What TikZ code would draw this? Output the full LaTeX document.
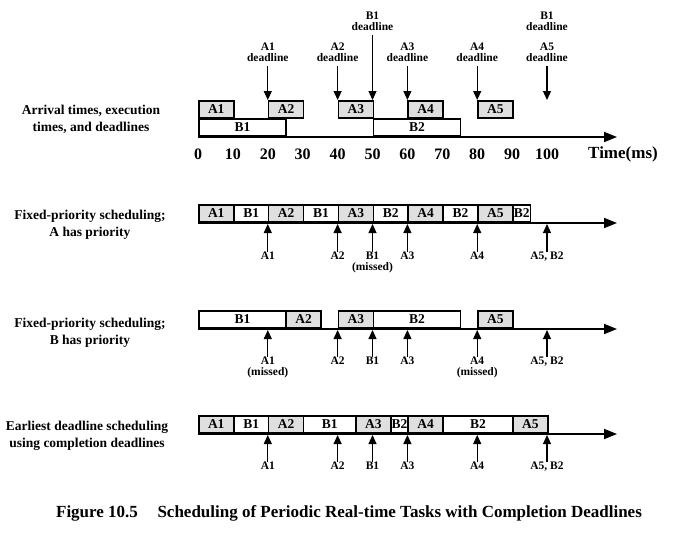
\documentclass[tikz,border=0pt]{standalone}
\usepackage{fontspec}
\setmainfont{Liberation Serif}
\usetikzlibrary{arrows.meta}
\newcommand\job[6]{\node[#2, minimum width={(#4-#3)*3.49pt}] (#1) at ({198+3.49*#3},#5) {#6};}
\newcommand\uparr[5]{%
  \node[small, anchor=north] (#1) at ({198+3.49*#2},#4) {#5};
  \coordinate (#1t) at ({198+3.49*#2},#3+1);
  \draw[dl] (#1) -- (#1t);}
\newcommand\dnarr[4]{%
  \node[small] (#1) at ({198+3.49*#2},#3) {#4};
  \coordinate (#1t) at ({198+3.49*#2},100);
  \draw[dl, shorten <=4pt] (#1) -- (#1t);}
\begin{document}
\begin{tikzpicture}[x=1pt,y=-1pt,
  abox/.style={draw, line width=1.6pt, fill=gray!25, inner sep=0pt, minimum height=17.5pt, anchor=south west, font=\fontsize{13.5}{13.5}\selectfont\bfseries},
  bbox/.style={abox, fill=white},
  axis/.style={line width=1.8pt, -{Triangle[length=13pt,width=10pt]}},
  dl/.style={line width=1.1pt, -{Triangle[length=9pt,width=8pt]}},
  small/.style={font=\fontsize{11.5}{11}\selectfont\bfseries, align=center, inner sep=0pt},
  rowlab/.style={font=\fontsize{13.5}{16.5}\selectfont\bfseries, align=center},
  tick/.style={font=\fontsize{16}{16}\selectfont\bfseries},
]
\useasboundingbox (0,0) rectangle (680,539);

% ---------- Row 1: arrival times ----------
\node[rowlab] (l1) at (91,119.5) {Arrival times, execution\\ times, and deadlines};
\coordinate (r1s) at (198,137);
\coordinate (r1e) at (617,137);
\draw[axis] (r1s) -- (r1e);
\job{tb1}{bbox}{0}{25}{137}{B1}
\job{tb2}{bbox}{50}{75}{137}{B2}
\job{ta1}{abox}{0}{10}{119}{A1}
\job{ta2}{abox}{20}{30}{119}{A2}
\job{ta3}{abox}{40}{50}{119}{A3}
\job{ta4}{abox}{60}{70}{119}{A4}
\job{ta5}{abox}{80}{90}{119}{A5}
\dnarr{d1}{20}{52.5}{A1\\deadline}
\dnarr{d2}{40}{52.5}{A2\\deadline}
\dnarr{d3}{50}{21}{B1\\deadline}
\dnarr{d4}{60}{52.5}{A3\\deadline}
\dnarr{d5}{80}{52.5}{A4\\deadline}
\dnarr{d6}{100}{52.5}{A5\\deadline}
\node[small] (d7) at ({198+3.49*100},21) {B1\\deadline};
\foreach \t in {0,10,...,100} {\node[tick] (k\t) at ({198+3.49*\t},154) {\t};}
\node[font=\fontsize{17}{17}\selectfont\bfseries] (time) at (623,154) {Time(ms)};

% ---------- Row 2: fixed priority, A ----------
\node[rowlab] (l2) at (90,225) {Fixed-priority scheduling;\\ A has priority};
\coordinate (r2s) at (198,223);
\coordinate (r2e) at (617,223);
\draw[axis] (r2s) -- (r2e);
\job{p1}{abox}{0}{10}{223}{A1}
\job{p2}{bbox}{10}{20}{223}{B1}
\job{p3}{abox}{20}{30}{223}{A2}
\job{p4}{bbox}{30}{40}{223}{B1}
\job{p5}{abox}{40}{50}{223}{A3}
\job{p6}{bbox}{50}{60}{223}{B2}
\job{p7}{abox}{60}{70}{223}{A4}
\job{p8}{bbox}{70}{80}{223}{B2}
\job{p9}{abox}{80}{90}{223}{A5}
\job{p10}{bbox}{90}{95}{223}{B2}
\uparr{u21}{20}{223}{252}{A1}
\uparr{u22}{40}{223}{252}{A2}
\uparr{u23}{50}{223}{252}{B1\\(missed)}
\uparr{u24}{60}{223}{252}{A3}
\uparr{u25}{80}{223}{252}{A4}
\uparr{u26}{100}{223}{252}{A5, B2}

% ---------- Row 3: fixed priority, B ----------
\node[rowlab] (l3) at (90,333) {Fixed-priority scheduling;\\ B has priority};
\coordinate (r3s) at (198,329);
\coordinate (r3e) at (617,329);
\draw[axis] (r3s) -- (r3e);
\job{q1}{bbox}{0}{25}{329}{B1}
\job{q2}{abox}{25}{35}{329}{A2}
\job{q3}{abox}{40}{50}{329}{A3}
\job{q4}{bbox}{50}{75}{329}{B2}
\job{q5}{abox}{80}{90}{329}{A5}
\uparr{u31}{20}{329}{357}{A1\\(missed)}
\uparr{u32}{40}{329}{357}{A2}
\uparr{u33}{50}{329}{357}{B1}
\uparr{u34}{60}{329}{357}{A3}
\uparr{u35}{80}{329}{357}{A4\\(missed)}
\uparr{u36}{100}{329}{357}{A5, B2}

% ---------- Row 4: earliest deadline ----------
\node[rowlab] (l4) at (87,436) {Earliest deadline scheduling\\ using completion deadlines};
\coordinate (r4s) at (198,434);
\coordinate (r4e) at (617,434);
\draw[axis] (r4s) -- (r4e);
\job{e1}{abox}{0}{10}{434}{A1}
\job{e2}{bbox}{10}{20}{434}{B1}
\job{e3}{abox}{20}{30}{434}{A2}
\job{e4}{bbox}{30}{45}{434}{B1}
\job{e5}{abox}{45}{55}{434}{A3}
\job{e6}{bbox}{55}{60}{434}{B2}
\job{e7}{abox}{60}{70}{434}{A4}
\job{e8}{bbox}{70}{90}{434}{B2}
\job{e9}{abox}{90}{100}{434}{A5}
\uparr{u41}{20}{434}{462}{A1}
\uparr{u42}{40}{434}{462}{A2}
\uparr{u43}{50}{434}{462}{B1}
\uparr{u44}{60}{434}{462}{A3}
\uparr{u45}{80}{434}{462}{A4}
\uparr{u46}{100}{434}{462}{A5, B2}

% ---------- Caption ----------
\node[font=\fontsize{17}{17}\selectfont\bfseries] (cap) at (349,513) {Figure 10.5\hspace{0.9em} Scheduling of Periodic Real-time Tasks with Completion Deadlines};
\end{tikzpicture}
\end{document}
